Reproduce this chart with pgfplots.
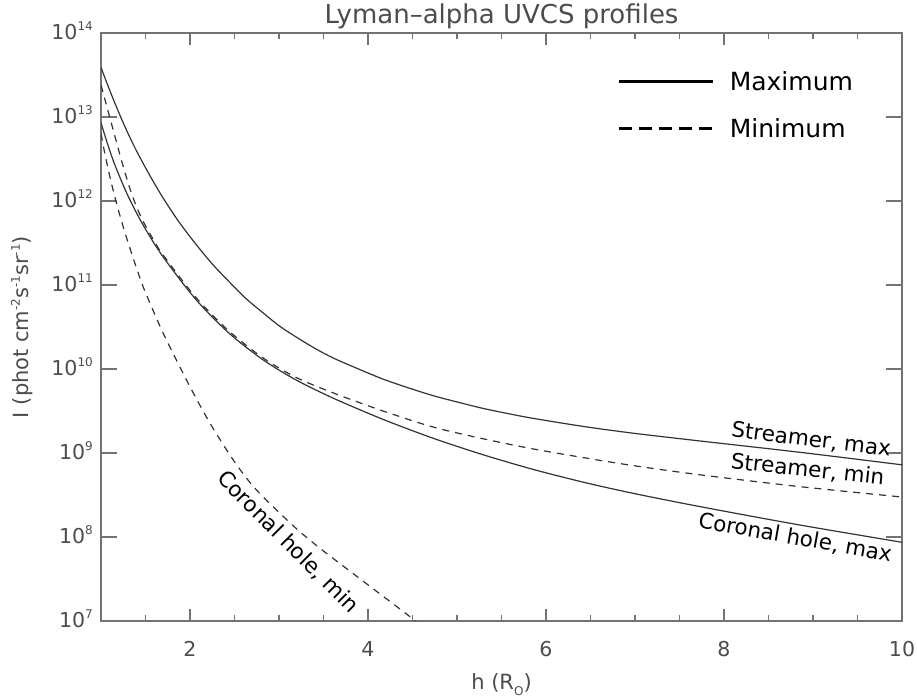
\documentclass[border=0pt]{standalone}
\usepackage{fontspec}
\setmainfont{DejaVu Sans}
\usepackage{pgfplots}
\pgfplotsset{compat=1.18}
\newcommand{\supx}[1]{\raisebox{9pt}{\fontsize{12}{12}\selectfont #1}}
\newcommand{\pw}[1]{10\supx{#1}}
\definecolor{axgray}{gray}{0.45}
\definecolor{txgray}{gray}{0.3}
\definecolor{crv}{gray}{0.2}
\begin{document}
\begin{tikzpicture}
\useasboundingbox (0,0) rectangle (917pt,699pt);
\begin{axis}[
  at={(101pt,78pt)}, anchor=south west,
  scale only axis, width=801pt, height=588pt,
  xmin=1, xmax=10, ymode=log, ymin=1e7, ymax=1e14,
  xtick={2,4,6,8,10}, xticklabels={2,4,6,8,10},
  minor xtick={1.5,2.5,3,3.5,4.5,5,5.5,6.5,7,7.5,8.5,9,9.5},
  ytick={1e7,1e8,1e9,1e10,1e11,1e12,1e13,1e14},
  yticklabels={\pw{7},\pw{8},\pw{9},\pw{10},\pw{11},\pw{12},\pw{13},\pw{14}},
  yminorticks=false,
  tick align=inside,
  axis line style={axgray, line width=1.1pt},
  tick style={axgray, line width=1.1pt},
  x tick style={/pgfplots/major tick length=12pt,/pgfplots/minor tick length=6pt},
  y tick style={/pgfplots/major tick length=16pt},
  ticklabel style={font=\fontsize{20.5}{25}\selectfont, text=txgray, inner sep=0pt},
  xticklabel style={anchor=north, yshift=-20pt},
  yticklabel style={anchor=base east, xshift=-8pt, yshift=-7pt},
  title={Lyman–alpha UVCS profiles},
  title style={font=\fontsize{26}{30}\selectfont, text=txgray, at={(axis description cs:0.5,1)}, anchor=base, yshift=3pt, inner sep=0pt},
  xlabel={h (R\raisebox{-6pt}{\fontsize{12}{12}\selectfont O})},
  xlabel style={font=\fontsize{21}{25}\selectfont, text=txgray, at={(axis description cs:0.5,0)}, anchor=base, yshift=-69pt, inner sep=0pt},
  ylabel={I (phot cm\supx{-2}s\supx{-1}sr\supx{-1})},
  ylabel style={font=\fontsize{21}{25}\selectfont, text=txgray, at={(axis description cs:-0.0986,0.5)}, anchor=center, inner sep=0pt},
  legend image code/.code={\draw[#1] (0pt,0pt) -- (94pt,0pt);},
  legend cell align=left,
  legend style={draw=none, fill=none, at={(0.6454,0.878)}, anchor=west, inner sep=0pt, column sep=15pt, row sep=29pt,
    font=\fontsize{25}{30}\selectfont, nodes={inner sep=0pt, text height=18pt, text depth=0pt}},
]
% Streamer, max
\addplot[forget plot, crv, line width=1.2pt, smooth, tension=0.5] coordinates {
(1.00,3.89e13) (1.10,2.05e13) (1.20,1.13e13) (1.29,6.85e12) (1.40,3.93e12)
(1.55,2.00e12) (1.69,1.12e12) (1.87,5.75e11) (2.06,3.12e11) (2.25,1.78e11)
(2.43,1.12e11) (2.62,7.03e10) (2.81,4.76e10) (3.00,3.28e10) (3.18,2.45e10)
(3.40,1.77e10) (3.61,1.35e10) (3.90,9.93e9) (4.17,7.57e9) (4.45,5.98e9)
(4.73,4.82e9) (5.00,4.05e9) (5.29,3.40e9) (5.57,2.95e9) (5.85,2.59e9)
(6.42,2.07e9) (6.98,1.72e9) (7.73,1.39e9) (8.85,1.02e9) (10.0,7.23e8)};
% Coronal hole, max
\addplot[forget plot, crv, line width=1.2pt, smooth, tension=0.5] coordinates {
(1.00,8.51e12) (1.08,4.55e12) (1.16,2.62e12) (1.30,1.17e12) (1.47,5.25e11)
(1.69,2.22e11) (2.06,6.84e10) (2.43,2.72e10) (2.81,1.31e10) (3.18,7.52e9)
(3.61,4.49e9) (4.17,2.51e9) (4.73,1.50e9) (5.29,9.55e8) (5.85,6.40e8)
(6.42,4.49e8) (6.98,3.31e8) (7.73,2.30e8) (8.85,1.39e8) (10.0,8.65e7)};
% Streamer, min
\addplot[forget plot, crv, line width=1.2pt, dash pattern=on 7pt off 6pt, smooth, tension=0.5] coordinates {
(1.00,2.40e13) (1.05,1.53e13) (1.10,9.77e12) (1.15,6.24e12) (1.20,3.98e12)
(1.25,2.57e12) (1.30,1.70e12) (1.35,1.175e12) (1.40,8.51e11) (1.47,5.82e11)
(1.58,3.59e11) (1.69,2.34e11) (2.06,7.23e10) (2.43,2.88e10) (2.81,1.38e10)
(3.18,8.04e9) (3.61,5.19e9) (4.17,3.16e9) (4.73,2.04e9) (5.29,1.48e9)
(5.85,1.12e9) (6.42,8.81e8) (6.98,7.08e8) (7.73,5.50e8) (8.85,3.98e8)
(10.0,2.99e8)};
% Coronal hole, min
\addplot[forget plot, crv, line width=1.2pt, dash pattern=on 7pt off 6pt, smooth, tension=0.5] coordinates {
(1.00,6.31e12) (1.04,3.80e12) (1.08,2.40e12) (1.13,1.43e12) (1.19,8.13e11)
(1.25,4.90e11) (1.30,3.31e11) (1.40,1.585e11) (1.49,8.61e10) (1.69,2.79e10)
(1.88,1.09e10) (2.06,4.66e9) (2.25,2.04e9) (2.51,7.59e8) (2.75,3.60e8)
(3.15,1.39e8) (3.42,7.94e7) (3.70,4.69e7) (4.10,2.24e7) (4.48,1.11e7)
(4.60,8.93e6)};
\addlegendimage{black, line width=2.6pt}
\addlegendentry{Maximum}
\addlegendimage{black, line width=2.6pt, dash pattern=on 13pt off 7pt}
\addlegendentry{Minimum}
\node[font=\fontsize{21.5}{25}\selectfont, rotate=-7] at (axis cs:8.98,1.43e9) {Streamer, max};
\node[font=\fontsize{21.5}{25}\selectfont, rotate=-6] at (axis cs:8.94,6.3e8) {Streamer, min};
\node[font=\fontsize{21.5}{25}\selectfont, rotate=-10] at (axis cs:8.80,9.8e7) {Coronal hole, max};
\node[font=\fontsize{21.5}{25}\selectfont, rotate=-45] at (axis cs:3.10,8.7e7) {Coronal hole, min};
\end{axis}
\end{tikzpicture}
\end{document}
